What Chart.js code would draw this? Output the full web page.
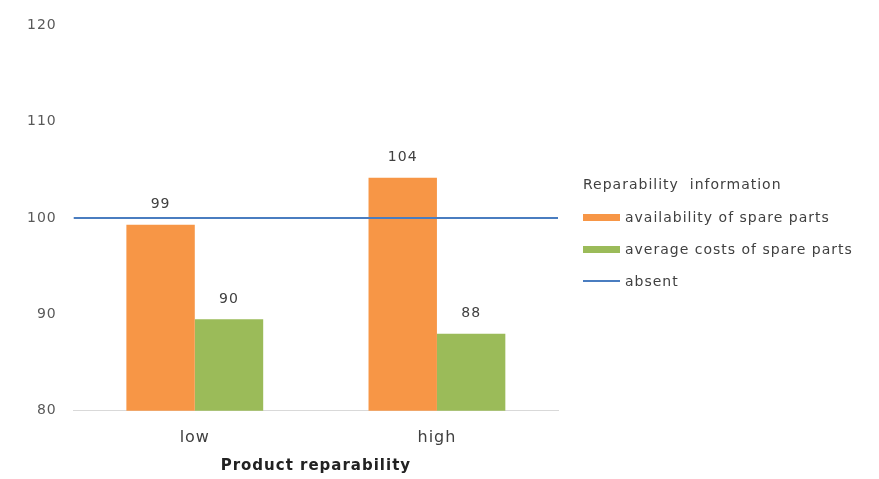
<!DOCTYPE html>
<html>
<head>
<meta charset="utf-8">
<script src="https://cdn.jsdelivr.net/npm/chart.js@4.4.1/dist/chart.umd.min.js"></script>
<style>
  html, body { margin: 0; padding: 0; background: #ffffff; }
  #wrap { position: relative; width: 879px; height: 479px; }
  #legend {
    position: absolute; left: 583px; top: 174px;
    font-family: "DejaVu Sans", sans-serif; font-size: 14px; color: #404040;
    letter-spacing: 1px;
  }
  #legend .title { height: 20px; line-height: 20px; margin-bottom: 7px; }
  #legend .item { display: flex; align-items: center; height: 32px; }
  #legend .swatch { width: 37px; margin-right: 5px; }
</style>
</head>
<body>
<div id="wrap">
  <canvas id="reparabilityChart"></canvas>
  <div id="legend"></div>
</div>
<script>
// chart data
const categories = ['low', 'high'];
const spareAvailability = [99.3, 104.2];
const spareCosts = [89.5, 88.0];
const absentLevel = 100;
const absentLabel = 'absent';
const yTicks = [80, 90, 100, 110, 120];
const legendTitle = 'Reparability\u00a0 information';

const fontFamily = '"DejaVu Sans", sans-serif';
const absentColor = '#4A7DC0';

// the source text is wide, so spread the canvas letters a little
const letterSpacing = {
    id: 'letterSpacing',
    beforeLayout(chart) { chart.ctx.letterSpacing = '1px'; },
    beforeDraw(chart) { chart.ctx.letterSpacing = '1px'; }
};

// reference line "absent" across the whole plot, placed with the y scale
const absentLine = {
    id: 'absentLine',
    afterDatasetsDraw(chart) {
        const c = chart.ctx;
        const area = chart.chartArea;
        const y = chart.scales.y.getPixelForValue(absentLevel);
        c.save();
        c.strokeStyle = absentColor;
        c.lineWidth = 2;
        c.beginPath();
        c.moveTo(area.left, y);
        c.lineTo(area.right, y);
        c.stroke();
        c.restore();
    }
};

// value labels above each bar
const barLabels = {
    id: 'barLabels',
    afterDatasetsDraw(chart) {
        const c = chart.ctx;
        c.save();
        c.font = '14px ' + fontFamily;
        c.fillStyle = '#404040';
        c.textAlign = 'center';
        c.textBaseline = 'middle';
        chart.data.datasets.forEach((ds, i) => {
            const meta = chart.getDatasetMeta(i);
            meta.data.forEach((bar, j) => {
                c.fillText(Math.round(ds.data[j]), bar.x, bar.y - 20);
            });
        });
        c.restore();
    }
};

// html legend on the right
const htmlLegend = {
    id: 'htmlLegend',
    afterUpdate(chart) {
        const box = document.getElementById('legend');
        box.innerHTML = '';
        const t = document.createElement('div');
        t.className = 'title';
        t.textContent = legendTitle;
        box.appendChild(t);
        const items = Chart.defaults.plugins.legend.labels.generateLabels(chart)
            .map(item => ({ text: item.text, color: item.fillStyle, h: 7 }));
        items.push({ text: absentLabel, color: absentColor, h: 2 });
        items.forEach(item => {
            const row = document.createElement('div');
            row.className = 'item';
            const sw = document.createElement('span');
            sw.className = 'swatch';
            sw.style.height = item.h + 'px';
            sw.style.background = item.color;
            const txt = document.createElement('span');
            txt.textContent = item.text;
            row.appendChild(sw);
            row.appendChild(txt);
            box.appendChild(row);
        });
    }
};

const ctx = document.getElementById('reparabilityChart').getContext('2d');
new Chart(ctx, {
    type: 'bar',
    data: {
        labels: categories,
        datasets: [
            {
                label: 'availability of spare parts',
                data: spareAvailability,
                backgroundColor: '#F79646',
                borderWidth: 0
            },
            {
                label: 'average costs of spare parts',
                data: spareCosts,
                backgroundColor: '#9BBB59',
                borderWidth: 0
            }
        ]
    },
    plugins: [letterSpacing, absentLine, barLabels, htmlLegend],
    options: {
        responsive: true,
        maintainAspectRatio: false,
        animation: false,
        datasets: {
            bar: { categoryPercentage: 0.565, barPercentage: 1.0 }
        },
        layout: {
            padding: { top: 14, right: 321, left: 10, bottom: 2 }
        },
        plugins: {
            tooltip: { enabled: false },
            legend: { display: false }
        },
        scales: {
            x: {
                grid: { display: false, drawTicks: false },
                border: { display: true, color: '#D9D9D9', width: 1 },
                ticks: {
                    color: '#404040',
                    font: { family: fontFamily, size: 16 },
                    padding: 17
                },
                title: {
                    display: true,
                    text: 'Product reparability',
                    color: '#222222',
                    font: { family: fontFamily, size: 15, weight: 'bold' },
                    padding: { top: -7, bottom: 2 }
                }
            },
            y: {
                min: yTicks[0],
                max: yTicks[yTicks.length - 1],
                afterBuildTicks: (axis) => {
                    axis.ticks = yTicks.map(v => ({ value: v }));
                },
                grid: { display: false, drawTicks: false },
                border: { display: false },
                ticks: {
                    color: '#595959',
                    font: { family: fontFamily, size: 14 },
                    padding: 17
                }
            }
        }
    }
});
</script>
</body>
</html>
